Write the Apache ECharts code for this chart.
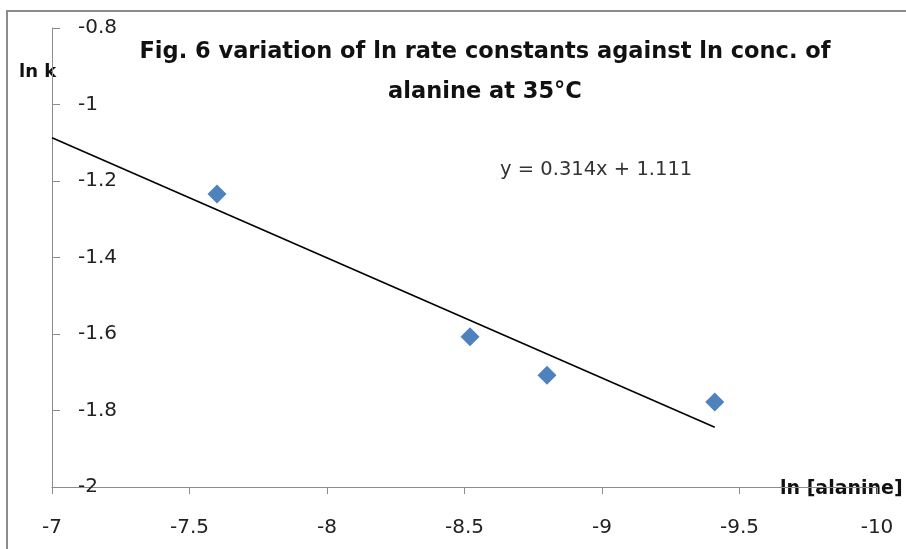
<!DOCTYPE html>
<html>
<head>
<meta charset="utf-8">
<script src="https://cdn.jsdelivr.net/npm/echarts@6/dist/echarts.min.js"></script>
<style>
  html, body { margin: 0; padding: 0; background: #fff; }
  #chart { width: 906px; height: 549px; }
</style>
</head>
<body>
<div id="chart"></div>
<script>
// ln [alanine] vs ln k
var lnConc = [-7.6, -8.52, -8.8, -9.41];
var lnK = [-1.234, -1.607, -1.708, -1.778];
// trend line ends, y = 0.314x + 1.111
var trendX = [-7, -9.41];
var trendY = [-1.087, -1.844];

var myChart = echarts.init(document.getElementById('chart'));

var font = '"DejaVu Sans", sans-serif';

var option = {
  animation: false,
  title: {
    text: 'Fig. 6 variation of ln rate constants against ln conc. of\nalanine at 35°C',
    left: 480,
    top: 27,
    textAlign: 'center',
    textStyle: {
      fontFamily: font,
      fontSize: 22.5,
      fontWeight: 'bold',
      color: '#111',
      lineHeight: 40
    }
  },
  graphic: [
    {
      type: 'rect',
      shape: { x: 7, y: 11, width: 920, height: 560 },
      style: { fill: 'none', stroke: '#8c8c8c', lineWidth: 2 },
      silent: true
    },
    {
      type: 'text',
      left: 500,
      top: 160,
      style: { text: 'y = 0.314x + 1.111', fontFamily: font, fontSize: 19.5, fill: '#333' }
    },
    {
      type: 'text',
      left: 19,
      top: 63,
      style: { text: 'ln k', fontFamily: font, fontSize: 18, fontWeight: 'bold', fill: '#111' }
    },
    {
      type: 'text',
      left: 780,
      top: 480,
      style: { text: 'ln [alanine]', fontFamily: font, fontSize: 19, fontWeight: 'bold', fill: '#111' }
    }
  ],
  grid: {
    left: 52,
    top: 28,
    width: 825,
    height: 459,
    containLabel: false,
    outerBoundsMode: 'none'
  },
  xAxis: {
    type: 'value',
    inverse: true,
    min: -10,
    max: -7,
    interval: 0.5,
    splitLine: { show: false },
    axisLine: { onZero: false, lineStyle: { color: '#8c8c8c', width: 1 } },
    axisTick: { length: 7, lineStyle: { color: '#8c8c8c' } },
    axisLabel: { fontFamily: font, fontSize: 20, color: '#222', margin: 31 }
  },
  yAxis: {
    type: 'value',
    min: -2,
    max: -0.8,
    interval: 0.2,
    splitLine: { show: false },
    axisLine: { onZero: false, lineStyle: { color: '#8c8c8c', width: 1 } },
    axisTick: { inside: true, length: 8, lineStyle: { color: '#8c8c8c' } },
    axisLabel: { inside: true, fontFamily: font, fontSize: 20, color: '#222', margin: 26 }
  },
  series: [
    {
      name: 'trend',
      type: 'line',
      data: trendX.map(function (x, i) { return [x, trendY[i]]; }),
      showSymbol: false,
      lineStyle: { color: '#000', width: 1.6 },
      z: 2
    },
    {
      name: 'ln k',
      type: 'scatter',
      data: lnConc.map(function (x, i) { return [x, lnK[i]]; }),
      symbol: 'diamond',
      symbolSize: 19,
      itemStyle: { color: '#4f81bd', opacity: 1 },
      z: 3
    }
  ]
};

myChart.setOption(option);
</script>
</body>
</html>
